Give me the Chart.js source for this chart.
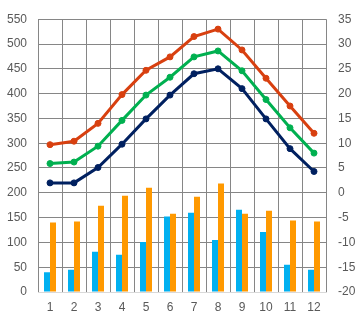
<!DOCTYPE html>
<html><head><meta charset="utf-8">
<script src="https://cdn.jsdelivr.net/npm/chart.js@4"></script>
<style>html,body{margin:0;padding:0;background:#fff;}#wrap{width:362px;height:323px;}</style>
</head><body><div id="wrap"><canvas id="c" width="362" height="323"></canvas></div>
<script>
const categories = ['1','2','3','4','5','6','7','8','9','10','11','12'];
const blueBars = [40, 45, 81, 75, 101, 152, 160, 105, 166, 121, 55, 45];
const orangeBars = [140, 142, 174, 194, 210, 158, 192, 219, 158, 164, 144, 142];
const redLine = [9.7, 10.4, 14.0, 19.8, 24.7, 27.4, 31.5, 33.0, 28.8, 23.1, 17.5, 12.0];
const greenLine = [5.9, 6.2, 9.4, 14.6, 19.7, 23.3, 27.4, 28.6, 24.6, 18.8, 13.1, 8.0];
const navyLine = [2.0, 2.0, 5.1, 9.8, 14.9, 19.7, 24.0, 25.0, 21.0, 14.9, 8.9, 4.3];
const leftTicks = {min: 0, max: 550, step: 50};
const rightTicks = {min: -20, max: 35, step: 5};

const font = {family: 'Liberation Sans, Arial, sans-serif', size: 12};
const tickColor = '#595959';
const gridColor = '#868686';

function lineDs(data, color) {
  return {type: 'line', data, yAxisID: 'y1', borderColor: color, backgroundColor: color,
    borderWidth: 3, pointRadius: 3, pointHoverRadius: 3, pointBorderWidth: 1,
    pointBackgroundColor: color, pointBorderColor: color, tension: 0, order: 0};
}

new Chart(document.getElementById('c'), {
  data: {
    labels: categories,
    datasets: [
      {type: 'bar', data: blueBars, backgroundColor: '#00B0F0', yAxisID: 'y', order: 1,
       categoryPercentage: 0.5, barPercentage: 1.0},
      {type: 'bar', data: orangeBars, backgroundColor: '#FF9900', yAxisID: 'y', order: 1,
       categoryPercentage: 0.5, barPercentage: 1.0},
      lineDs(navyLine, '#002060'),
      lineDs(greenLine, '#00B050'),
      lineDs(redLine, '#D84010')
    ]
  },
  options: {
    responsive: false,
    animation: false,
    devicePixelRatio: 1,
    layout: {padding: {top: 14, left: 0, right: 0, bottom: 0}},
    plugins: {legend: {display: false}, tooltip: {enabled: false}},
    scales: {
      x: {
        offset: true,
        grid: {color: gridColor, offset: true, drawTicks: false, lineWidth: 1},
        border: {color: '#d9d9d9', width: 1},
        ticks: {color: tickColor, font, padding: 8},
        afterFit: s => { s.height = 31; }
      },
      y: {
        position: 'left', min: leftTicks.min, max: leftTicks.max,
        grid: {color: gridColor, drawTicks: false},
        border: {display: false},
        ticks: {stepSize: leftTicks.step, color: tickColor, font, padding: 11},
        afterFit: s => { s.width = 38; }
      },
      y1: {
        position: 'right', min: rightTicks.min, max: rightTicks.max,
        grid: {display: false, drawTicks: false},
        border: {display: false},
        ticks: {stepSize: rightTicks.step, color: tickColor, font, padding: 12},
        afterFit: s => { s.width = 36; }
      }
    }
  }
});
</script>
</body></html>
